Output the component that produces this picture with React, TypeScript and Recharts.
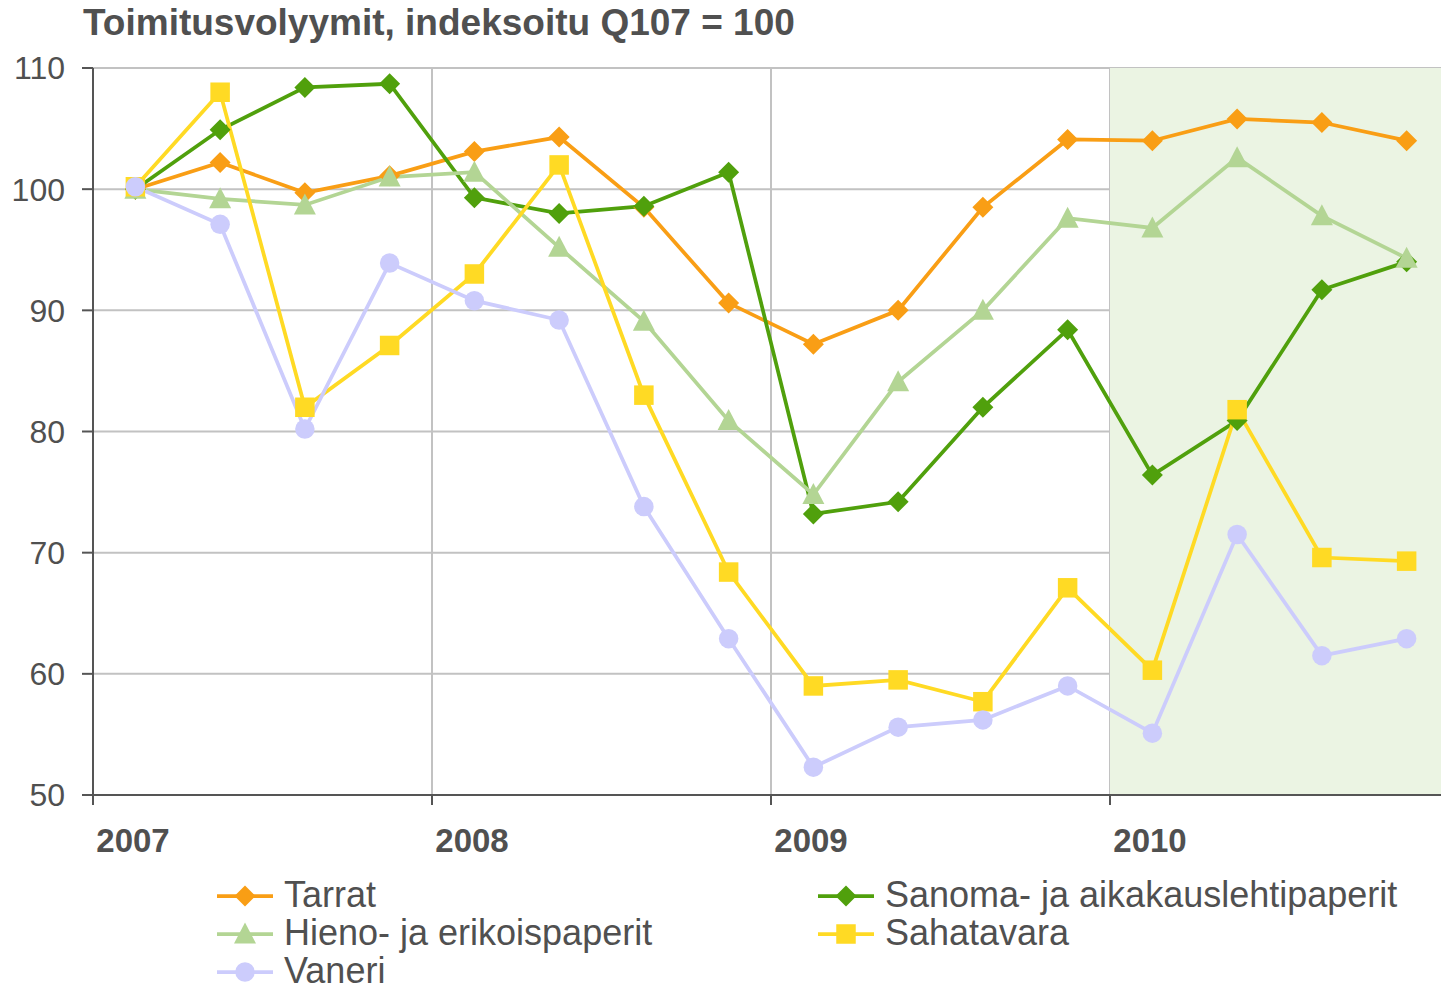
import React from "react"
import {
  LineChart,
  Line,
  XAxis,
  YAxis,
  CartesianGrid,
  ReferenceArea,
} from "recharts"

// Quarters Q1/2007 .. Q4/2010, index 100 = Q1/2007
const QUARTERS = [
  "Q1/07", "Q2/07", "Q3/07", "Q4/07",
  "Q1/08", "Q2/08", "Q3/08", "Q4/08",
  "Q1/09", "Q2/09", "Q3/09", "Q4/09",
  "Q1/10", "Q2/10", "Q3/10", "Q4/10",
]
const YEARS = ["2007", "2008", "2009", "2010"]
const Y_TICKS = [50, 60, 70, 80, 90, 100, 110]

const TARRAT = [100, 102.2, 99.7, 101.1, 103.1, 104.3, 98.5, 90.6, 87.2, 90.0, 98.5, 104.1, 104.0, 105.8, 105.5, 104.0]
const SANOMA = [100, 104.9, 108.4, 108.7, 99.3, 98.0, 98.6, 101.4, 73.2, 74.2, 82.0, 88.4, 76.4, 80.9, 91.7, 94.0]
const HIENO = [100, 99.2, 98.7, 101.0, 101.4, 95.2, 89.1, 80.9, 74.8, 84.1, 90.0, 97.6, 96.8, 102.6, 97.8, 94.3]
const SAHATAVARA = [100.2, 108.0, 82.0, 87.1, 93.0, 102.0, 83.0, 68.4, 59.0, 59.5, 57.7, 67.1, 60.3, 81.8, 69.6, 69.3]
const VANERI = [100.2, 97.1, 80.2, 93.9, 90.8, 89.2, 73.8, 62.9, 52.3, 55.6, 56.2, 59.0, 55.1, 71.5, 61.5, 62.9]

type Shape = "diamond" | "square" | "triangle" | "circle"

const SERIES: { key: string; name: string; color: string; shape: Shape; values: number[] }[] = [
  { key: "tarrat", name: "Tarrat", color: "#f99e15", shape: "diamond", values: TARRAT },
  { key: "sanoma", name: "Sanoma- ja aikakauslehtipaperit", color: "#50a00c", shape: "diamond", values: SANOMA },
  { key: "hieno", name: "Hieno- ja erikoispaperit", color: "#b3d594", shape: "triangle", values: HIENO },
  { key: "sahatavara", name: "Sahatavara", color: "#ffda24", shape: "square", values: SAHATAVARA },
  { key: "vaneri", name: "Vaneri", color: "#ccccfc", shape: "circle", values: VANERI },
]

const data = QUARTERS.map((q, i) => {
  const row: Record<string, number | string> = { q, x: i + 0.5 }
  SERIES.forEach((s) => {
    row[s.key] = s.values[i]
  })
  return row
})

const FONT = '"Liberation Sans", Arial, sans-serif'
const TEXT = "#505050"

function Marker({ shape, cx, cy, color }: { shape: Shape; cx: number; cy: number; color: string }) {
  if (shape === "diamond") {
    return <path d={`M${cx},${cy - 10.5}L${cx + 10.5},${cy}L${cx},${cy + 10.5}L${cx - 10.5},${cy}Z`} fill={color} />
  }
  if (shape === "square") {
    return <rect x={cx - 9.75} y={cy - 9.75} width={19.5} height={19.5} fill={color} />
  }
  if (shape === "triangle") {
    return <path d={`M${cx},${cy - 11.5}L${cx + 11},${cy + 9.5}L${cx - 11},${cy + 9.5}Z`} fill={color} />
  }
  return <circle cx={cx} cy={cy} r={9.75} fill={color} />
}

const makeDot = (shape: Shape, color: string) => (props: any) => {
  const { cx, cy, index } = props
  return (
    <g key={`dot-${index}`}>
      <Marker shape={shape} cx={cx} cy={cy} color={color} />
    </g>
  )
}

function YearTick(props: any) {
  const { x, y, payload } = props
  const label = YEARS[payload.value / 4]
  if (!label) return null
  return (
    <text x={x + 40} y={y} dy={45} textAnchor="middle" fill={TEXT} fontSize={33} fontWeight="bold" fontFamily={FONT}>
      {label}
    </text>
  )
}

const LEGEND_POS = [
  { x: 217, y: 907 },
  { x: 818, y: 907 },
  { x: 217, y: 945 },
  { x: 818, y: 945 },
  { x: 217, y: 983 },
]

export default function App() {
  return (
    <div style={{ position: "absolute", left: 0, top: 0, width: 1441, height: 990, overflow: "hidden", background: "#fff" }}>
      <LineChart width={1460} height={900} data={data} margin={{ top: 68, right: 11, bottom: 0, left: 0 }}>
        <ReferenceArea x1={12} x2={16} y1={50} y2={110} fill="#ebf4e3" fillOpacity={1} stroke="none" />
        <CartesianGrid stroke="#c2c2c2" strokeWidth={2} />
        <XAxis
          type="number"
          dataKey="x"
          domain={[0, 16]}
          ticks={[0, 4, 8, 12]}
          interval={0}
          tickSize={10}
          height={105}
          stroke="#555"
          strokeWidth={2}
          tick={<YearTick />}
        />
        <YAxis
          domain={[50, 110]}
          ticks={Y_TICKS}
          interval={0}
          width={93}
          tickSize={11}
          tickMargin={17}
          stroke="#555"
          strokeWidth={2}
          tick={{ fill: TEXT, fontSize: 32, fontFamily: FONT }}
        />
        {SERIES.map((s) => (
          <Line
            key={s.key}
            type="linear"
            dataKey={s.key}
            name={s.name}
            stroke={s.color}
            strokeWidth={3.75}
            dot={makeDot(s.shape, s.color)}
            activeDot={false}
            isAnimationActive={false}
          />
        ))}
      </LineChart>

      <svg width={1441} height={990} style={{ position: "absolute", left: 0, top: 0, pointerEvents: "none" }}>
        <text x={83} y={35} fill={TEXT} fontSize={37} fontWeight="bold" fontFamily={FONT}>
          Toimitusvolyymit, indeksoitu Q107 = 100
        </text>
        {SERIES.map((s, i) => {
          const p = LEGEND_POS[i]
          const cy = p.y - 11
          return (
            <g key={s.key}>
              <line x1={p.x} x2={p.x + 56} y1={cy} y2={cy} stroke={s.color} strokeWidth={3.75} />
              <Marker shape={s.shape} cx={p.x + 28} cy={cy} color={s.color} />
              <text x={p.x + 67} y={p.y} fill={TEXT} fontSize={36} fontFamily={FONT}>
                {s.name}
              </text>
            </g>
          )
        })}
      </svg>
    </div>
  )
}
